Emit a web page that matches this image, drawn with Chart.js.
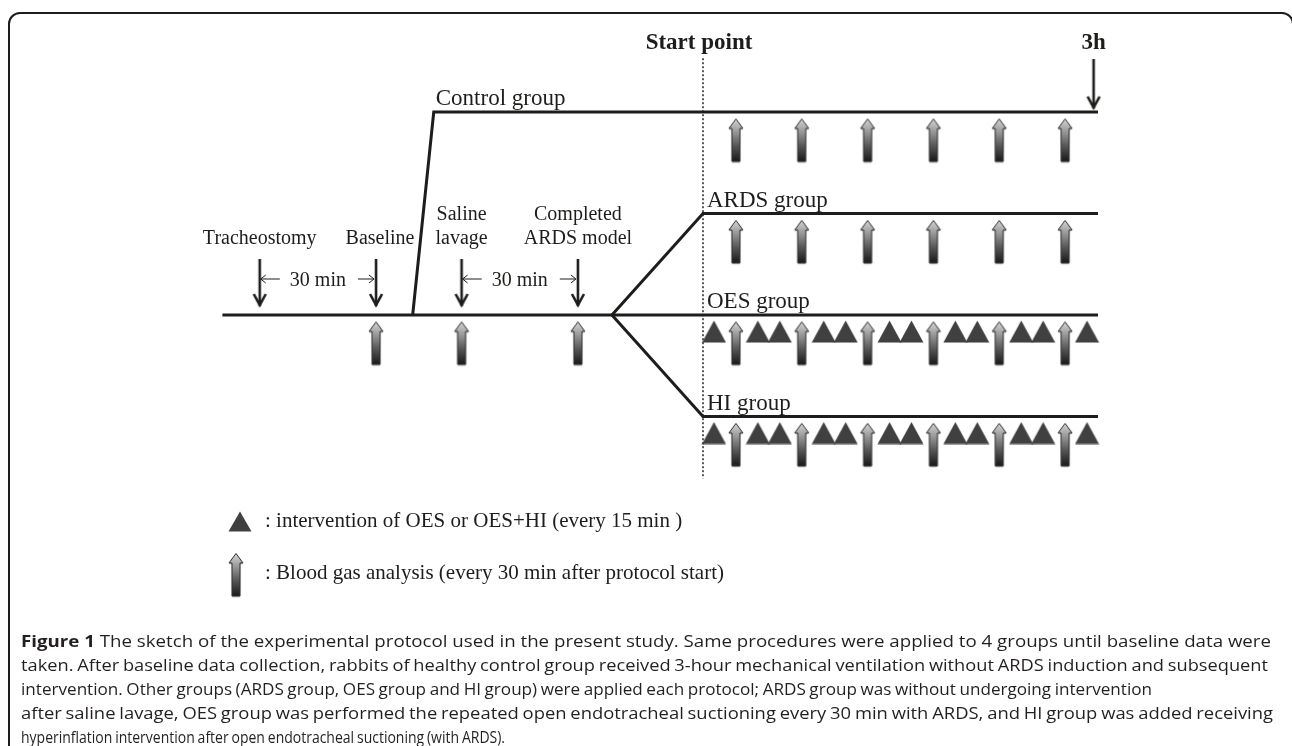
<!DOCTYPE html>
<html>
<head>
<meta charset="utf-8">
<script src="https://cdn.jsdelivr.net/npm/chart.js@4.4.0/dist/chart.umd.min.js"></script>
<style>
  html, body { margin: 0; padding: 0; background: #fff; }
  canvas { display: block; }
</style>
</head>
<body>
<canvas id="protocolChart" width="1292" height="746"></canvas>
<script>
// time axis in "sketch minutes": 0 = start point, 180 = 3h
// (the part before the start point is not drawn to scale in the figure)
const groups = ['Control group', 'ARDS group', 'OES group', 'HI group'];
const groupLevels = [2, 1, 0, -1];
const groupHasIntervention = [false, false, true, true];

const eventLabels = [['Tracheostomy'], ['Baseline'], ['Saline', 'lavage'], ['Completed', 'ARDS model']];
const eventTimes = [-202, -149, -110, -57];
const intervalPairs = [[0, 1], [2, 3]];
const intervalLabel = '30 min';

const preBloodGasTimes = [-149, -110, -57];
const bloodGasTimes = [15, 45, 75, 105, 135, 165];
const interventionTimes = [5, 25, 35, 55, 65, 85, 95, 115, 125, 145, 155, 175];

const timelineStart = -219;
const controlBranch = [-132.3, -122.7];
const splitTime = -41.5;
const startTime = 0;
const endTime = 180;
const endMarkTime = 178;

const legendLabels = [': intervention of OES or OES+HI (every 15 min )',
                      ': Blood gas analysis (every 30 min after protocol start)'];

const captionLines = [
  'Figure 1 The sketch of the experimental protocol used in the present study. Same procedures were applied to 4 groups until baseline data were',
  'taken. After baseline data collection, rabbits of healthy control group received 3-hour mechanical ventilation without ARDS induction and subsequent',
  'intervention. Other groups (ARDS group, OES group and HI group) were applied each protocol; ARDS group was without undergoing intervention',
  'after saline lavage, OES group was performed the repeated open endotracheal suctioning every 30 min with ARDS, and HI group was added receiving',
  'hyperinflation intervention after open endotracheal suctioning (with ARDS).'
];
const captionEnds = [1271, 1268, 1152, 1273, 505];

const ink = '#1d1d1b';
const serif = '"Liberation Serif", "Times New Roman", serif';

// px per sketch minute and per row
const pxPerMin = 395 / 180;
const pxPerRow = 101.5;

function downArrow(len) {
  const c = document.createElement('canvas');
  c.width = 16; c.height = len;
  const g = c.getContext('2d');
  g.strokeStyle = ink;
  g.lineWidth = 2.6;
  g.beginPath(); g.moveTo(8, 0); g.lineTo(8, len - 3); g.stroke();
  g.lineJoin = 'miter';
  g.beginPath(); g.moveTo(2, len - 15); g.lineTo(8, len - 4); g.lineTo(14, len - 15); g.stroke();
  return c;
}

function gasArrow() {
  const c = document.createElement('canvas');
  c.width = 22; c.height = 48;
  const g = c.getContext('2d');
  const grad = g.createLinearGradient(0, 2, 0, 45);
  grad.addColorStop(0, '#d4d4d4');
  grad.addColorStop(0.25, '#a0a0a0');
  grad.addColorStop(0.6, '#5a5a5a');
  grad.addColorStop(1, '#141414');
  g.shadowColor = 'rgba(0,0,0,0.4)';
  g.shadowBlur = 2;
  g.shadowOffsetY = 1;
  g.beginPath();
  g.moveTo(11, 1.5);
  g.lineTo(18, 11);
  g.lineTo(15, 11);
  g.lineTo(15, 44);
  g.lineTo(7, 44);
  g.lineTo(7, 11);
  g.lineTo(4, 11);
  g.closePath();
  g.fillStyle = grad;
  g.fill();
  g.shadowColor = 'transparent';
  g.strokeStyle = '#333';
  g.lineWidth = 1;
  g.stroke();
  return c;
}

function triangle(w, h) {
  const c = document.createElement('canvas');
  c.width = w; c.height = h;
  const g = c.getContext('2d');
  g.fillStyle = '#404040';
  g.beginPath();
  g.moveTo(w / 2, 0.5);
  g.lineTo(w - 0.5, h - 0.5);
  g.lineTo(0.5, h - 0.5);
  g.closePath();
  g.fill();
  return c;
}

const eventArrowImg = downArrow(50);
const endArrowImg = downArrow(53);
const gasArrowImg = gasArrow();
const triangleImg = triangle(25, 23);
const legendTriangleImg = triangle(24, 21);

const gasDrop = 0.29;
const triDrop = 0.163;

function line(points, extra) {
  return Object.assign({
    data: points,
    showLine: true,
    borderColor: ink,
    borderWidth: 3,
    pointRadius: 0,
    tension: 0,
    fill: false
  }, extra || {});
}

function marks(points, img) {
  return {
    data: points,
    showLine: false,
    pointStyle: img,
    pointRadius: 6,
    borderWidth: 0
  };
}

const gasPoints = preBloodGasTimes.map(t => ({ x: t, y: -gasDrop }));
groupLevels.forEach(lv => bloodGasTimes.forEach(t => gasPoints.push({ x: t, y: lv - gasDrop })));

const triPoints = [];
groupLevels.forEach((lv, i) => {
  if (groupHasIntervention[i]) interventionTimes.forEach(t => triPoints.push({ x: t, y: lv - triDrop }));
});

const datasets = [
  line([{ x: timelineStart, y: 0 }, { x: endTime, y: 0 }]),
  line([{ x: controlBranch[0], y: 0 }, { x: controlBranch[1], y: groupLevels[0] }, { x: endTime, y: groupLevels[0] }]),
  line([{ x: splitTime, y: 0 }, { x: startTime, y: groupLevels[1] }, { x: endTime, y: groupLevels[1] }]),
  line([{ x: splitTime, y: 0 }, { x: startTime, y: groupLevels[3] }, { x: endTime, y: groupLevels[3] }]),
  line([{ x: startTime, y: 2.53 }, { x: startTime, y: -1.61 }], { borderWidth: 1.6, borderDash: [2, 2], borderColor: '#333' }),
  marks(eventTimes.map(t => ({ x: t, y: 0.305 })), eventArrowImg),
  marks([{ x: endMarkTime, y: groupLevels[0] + 0.266 }], endArrowImg),
  marks(triPoints, triangleImg),
  marks(gasPoints, gasArrowImg)
];

function thinArrow(ctx, x1, x2, yy, left) {
  ctx.beginPath();
  ctx.moveTo(x1, yy); ctx.lineTo(x2, yy);
  if (left) { ctx.moveTo(x1 + 5, yy - 4); ctx.lineTo(x1, yy); ctx.lineTo(x1 + 5, yy + 4); }
  else { ctx.moveTo(x2 - 5, yy - 4); ctx.lineTo(x2, yy); ctx.lineTo(x2 - 5, yy + 4); }
  ctx.stroke();
}

const capFont = '16px "Open Sans", "Noto Sans", sans-serif';
const capBold = 'bold 16px "Open Sans", "Noto Sans", sans-serif';

// lay out one caption line word by word: glyph squeeze partly shared, rest taken up by word gaps
function captionLine(ctx, txt, x0, base, xEnd, sCommon) {
  const words = txt.split(' ');
  const isFig = txt.startsWith('Figure 1');
  const widths = words.map((w, k) => {
    ctx.font = (isFig && k < 2) ? capBold : capFont;
    return ctx.measureText(w).width;
  });
  ctx.font = capFont;
  const sp = ctx.measureText(' ').width;
  const n = words.length - 1;
  const wordsW = widths.reduce((a, b) => a + b, 0);
  const span = xEnd - x0;
  const fit = span / (wordsW + sp * n);
  let g = Math.sqrt(fit * sCommon);
  let gap = (span / g - wordsW) / n;
  if (gap < sp * 0.8) {
    gap = sp * 0.8;
    g = span / (wordsW + gap * n);
  }
  ctx.save();
  ctx.translate(x0, base);
  ctx.scale(g, 1);
  let cx = 0;
  words.forEach((w, k) => {
    ctx.font = (isFig && k < 2) ? capBold : capFont;
    ctx.fillText(w, cx, 0);
    cx += widths[k] + gap;
  });
  ctx.restore();
}

const sketchText = {
  id: 'sketchText',
  afterDatasetsDraw(chart) {
    const { ctx } = chart;
    const x = chart.scales.x, y = chart.scales.y;
    ctx.save();

    // figure frame
    ctx.strokeStyle = ink;
    ctx.lineWidth = 2;
    ctx.beginPath();
    ctx.moveTo(9, 760);
    ctx.lineTo(9, 24);
    ctx.arcTo(9, 13, 20, 13, 11);
    ctx.lineTo(1282, 13);
    ctx.arcTo(1293, 13, 1293, 24, 11);
    ctx.lineTo(1293, 760);
    ctx.stroke();

    ctx.fillStyle = ink;
    ctx.textBaseline = 'alphabetic';

    ctx.font = 'bold 23px ' + serif;
    ctx.textAlign = 'center';
    ctx.fillText('Start point', x.getPixelForValue(startTime) - 4, 49);
    ctx.fillText('3h', x.getPixelForValue(endMarkTime), 49);

    // group labels
    ctx.font = '23px ' + serif;
    ctx.textAlign = 'left';
    groups.forEach((name, i) => {
      const x0 = i === 0 ? x.getPixelForValue(controlBranch[1]) + 2 : x.getPixelForValue(startTime) + 4;
      ctx.fillText(name, x0, y.getPixelForValue(groupLevels[i]) - 7);
    });

    // event labels
    const y0 = y.getPixelForValue(0);
    ctx.font = '20px ' + serif;
    ctx.textAlign = 'center';
    eventLabels.forEach((lines, i) => {
      const ex = x.getPixelForValue(eventTimes[i]) + (i === 1 ? 4 : 0);
      lines.forEach((txt, j) => {
        ctx.fillText(txt, ex, y0 - 71 - (lines.length - 1 - j) * 24);
      });
    });

    // interval markers
    ctx.lineWidth = 1;
    intervalPairs.forEach(([a, b]) => {
      const xa = x.getPixelForValue(eventTimes[a]);
      const xb = x.getPixelForValue(eventTimes[b]);
      const mid = (xa + xb) / 2;
      const tw = ctx.measureText(intervalLabel).width;
      ctx.fillText(intervalLabel, mid, y0 - 29);
      thinArrow(ctx, xa + 1, mid - tw / 2 - 10, y0 - 36, true);
      thinArrow(ctx, mid + tw / 2 + 12, xb - 2, y0 - 36, false);
    });

    // legend
    ctx.drawImage(legendTriangleImg, 228, 511);
    ctx.drawImage(gasArrowImg, 225, 552);
    ctx.font = '21px ' + serif;
    ctx.textAlign = 'left';
    ctx.fillText(legendLabels[0], 265, 527);
    ctx.fillText(legendLabels[1], 265, 579);

    // caption
    ctx.fillStyle = '#231f20';
    ctx.textAlign = 'left';
    ctx.font = capBold;
    const bw = ctx.measureText('Figure 1').width;
    ctx.font = capFont;
    const sCommon = (captionEnds[0] - 21) / (bw + ctx.measureText(captionLines[0].slice(8)).width);
    captionLines.forEach((txt, i) => {
      captionLine(ctx, txt, 21, 647 + i * 24, captionEnds[i], sCommon);
    });

    ctx.restore();
  }
};

new Chart(document.getElementById('protocolChart'), {
  type: 'scatter',
  data: { datasets },
  options: {
    responsive: false,
    animation: false,
    devicePixelRatio: 1,
    events: [],
    layout: { padding: 0, autoPadding: false },
    scales: {
      x: { type: 'linear', display: false, min: -703 / pxPerMin, max: (1292 - 703) / pxPerMin },
      y: { type: 'linear', display: false, min: -431 / pxPerRow, max: 315 / pxPerRow }
    },
    plugins: { legend: { display: false }, tooltip: { enabled: false } }
  },
  plugins: [sketchText]
});
</script>
</body>
</html>
